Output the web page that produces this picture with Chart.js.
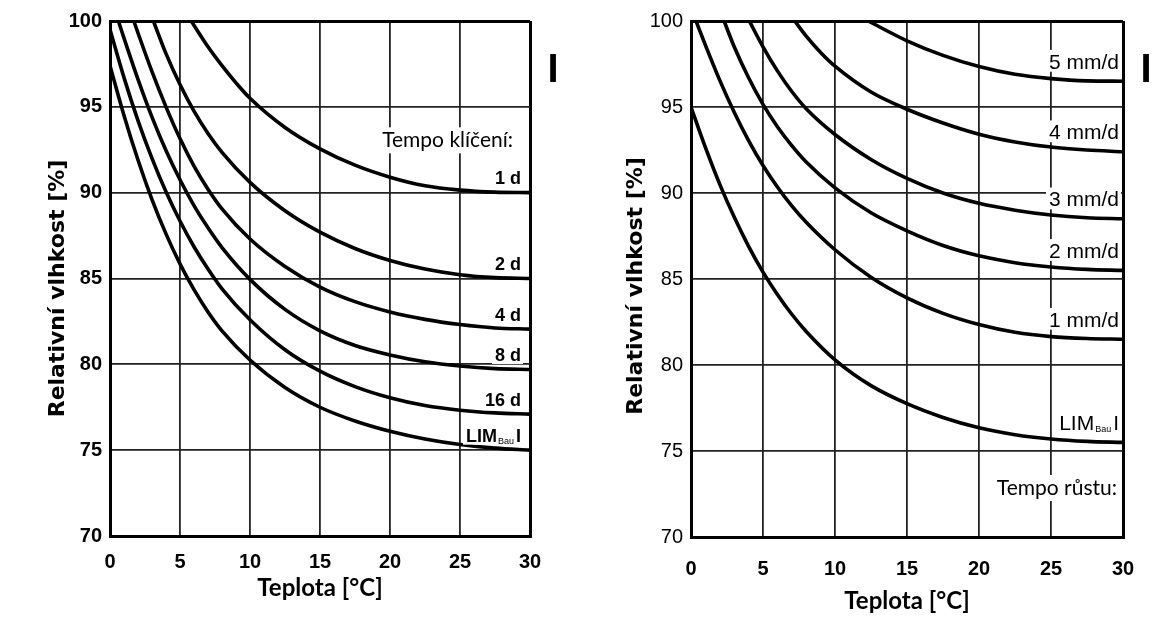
<!DOCTYPE html>
<html>
<head>
<meta charset="utf-8">
<script src="https://cdn.jsdelivr.net/npm/chart.js@4"></script>
<style>
  html, body { margin: 0; padding: 0; background: #fff; }
  #wrap { position: relative; width: 1176px; height: 622px; }
  .box { position: absolute; top: 0; height: 622px; }
  #leftBox { left: 0; width: 590px; }
  #rightBox { left: 590px; width: 586px; }
</style>
</head>
<body>
<div id="wrap">
  <div class="box" id="leftBox"><canvas id="germChart"></canvas></div>
  <div class="box" id="rightBox"><canvas id="growthChart"></canvas></div>
</div>
<script>
// =========================
// Data: [teplota °C, rel. vlhkost %]
// =========================
// Tempo klíčení (germination time)
const germ1d  = [[5.8,100],[7,98.5],[8,97.4],[9,96.4],[10,95.5],[12.5,93.8],[15,92.55],[17.5,91.6],[20,90.9],[22.5,90.4],[25,90.15],[27.5,90.03],[30,90.0]];
const germ2d  = [[3.1,100],[4,98.1],[5,96.3],[6,94.75],[7,93.45],[8,92.35],[10,90.6],[12.5,88.95],[15,87.7],[17.5,86.75],[20,86.05],[22.5,85.55],[25,85.22],[27.5,85.05],[30,85.0]];
const germ4d  = [[1.7,100],[2,99.3],[3,97.05],[4,95.0],[5,93.15],[6,91.55],[7,90.2],[8,89.05],[10,87.3],[12.5,85.7],[15,84.5],[17.5,83.65],[20,83.05],[22.5,82.62],[25,82.32],[27.5,82.12],[30,82.05]];
const germ8d  = [[0.6,100],[1,99.0],[2,96.6],[3,94.4],[4,92.45],[5,90.75],[6,89.25],[7,87.95],[8,86.8],[10,84.95],[12.5,83.2],[15,81.95],[17.5,81.1],[20,80.55],[22.5,80.15],[25,79.9],[27.5,79.75],[30,79.7]];
const germ16d = [[0,99.5],[1,96.7],[2,94.2],[3,92.0],[4,90.05],[5,88.35],[6,86.85],[7,85.55],[8,84.4],[10,82.6],[12.5,80.85],[15,79.6],[17.5,78.7],[20,78.05],[22.5,77.6],[25,77.33],[27.5,77.17],[30,77.1]];
const limGerm = [[0,97.4],[1,94.5],[2,91.9],[3,89.6],[4,87.6],[5,85.85],[6,84.35],[7,83.05],[8,81.95],[10,80.25],[12.5,78.65],[15,77.5],[17.5,76.7],[20,76.1],[22.5,75.65],[25,75.33],[27.5,75.12],[30,75.0]];

// Tempo růstu (growth rate)
const grow5mm = [[12.3,100],[15,98.85],[17.5,98.0],[20,97.35],[22.5,96.9],[25,96.65],[27.5,96.52],[30,96.5]];
const grow4mm = [[7.2,100],[8,99.12],[9,98.17],[10,97.37],[12.5,95.87],[15,94.87],[17.5,94.07],[20,93.42],[22.5,92.97],[25,92.67],[27.5,92.5],[30,92.4]];
const grow3mm = [[4.05,100],[5,98.5],[6,97.1],[7,95.9],[8,94.9],[10,93.4],[12.5,91.95],[15,90.85],[17.5,90.0],[20,89.4],[22.5,89.0],[25,88.72],[27.5,88.56],[30,88.5]];
const grow2mm = [[2.3,100],[3,98.5],[4,96.7],[5,95.15],[6,93.85],[7,92.75],[8,91.8],[10,90.3],[12.5,88.85],[15,87.8],[17.5,86.95],[20,86.35],[22.5,85.95],[25,85.7],[27.5,85.56],[30,85.5]];
const grow1mm = [[0.35,100],[1,98.6],[2,96.55],[3,94.7],[4,93.05],[5,91.6],[6,90.35],[7,89.25],[8,88.3],[10,86.7],[12.5,85.1],[15,83.9],[17.5,83.0],[20,82.35],[22.5,81.9],[25,81.65],[27.5,81.54],[30,81.5]];
const limGrow = [[0,95.0],[1,92.65],[2,90.5],[3,88.6],[4,86.9],[5,85.4],[6,84.1],[7,82.95],[8,81.95],[10,80.3],[12.5,78.8],[15,77.75],[17.5,76.95],[20,76.35],[22.5,75.95],[25,75.7],[27.5,75.56],[30,75.5]];

const germSeries = [germ1d, germ2d, germ4d, germ8d, germ16d, limGerm];
const germNames  = ['1 d', '2 d', '4 d', '8 d', '16 d', 'LIM|Bau|I'];
const growSeries = [grow5mm, grow4mm, grow3mm, grow2mm, grow1mm, limGrow];
const growNames  = ['5 mm/d', '4 mm/d', '3 mm/d', '2 mm/d', '1 mm/d', 'LIM|Bau|I'];

const xMin = 0, xMax = 30, yMin = 70, yMax = 100, tickStep = 5;
const xTitle = 'Teplota [°C]';
const yTitle = 'Relativní vlhkost [%]';

// =========================
// Curve end labels + headings
// =========================
function drawTag(ctx, name, right, bottom, font, subFont) {
    const parts = name.split('|');
    ctx.font = font;
    const w0 = ctx.measureText(parts[0]).width;
    const w2 = parts[2] ? ctx.measureText(parts[2]).width + 2 : 0;
    ctx.font = subFont;
    const w1 = parts[1] ? ctx.measureText(parts[1]).width + 1 : 0;
    const total = w0 + w1 + w2;
    const left = right - total;
    const h = parseInt(font.match(/(\d+)px/)[1], 10);

    ctx.fillStyle = '#fff';
    ctx.fillRect(left - 3, bottom - h * 0.8 - 2, total + 5, h * 0.8 + 5);

    ctx.fillStyle = '#000';
    ctx.textAlign = 'left';
    ctx.textBaseline = 'alphabetic';
    ctx.font = font;
    ctx.fillText(parts[0], left, bottom);
    if (parts[1]) {
        ctx.font = subFont;
        ctx.fillText(parts[1], left + w0 + 1, bottom + 2);
    }
    if (parts[2]) {
        ctx.font = font;
        ctx.fillText(parts[2], left + w0 + w1 + 2, bottom);
    }
}

const curveLabels = {
    id: 'curveLabels',
    afterDatasetsDraw(chart, args, opts) {
        const { ctx, chartArea, scales: { x, y } } = chart;
        ctx.save();
        chart.data.datasets.forEach(ds => {
            const last = ds.data[ds.data.length - 1];
            drawTag(ctx, ds.label,
                x.getPixelForValue(last.x) - opts.inset,
                y.getPixelForValue(last.y) - opts.gap,
                opts.font, opts.subFont);
        });

        // heading ("Tempo ...")
        ctx.font = opts.headFont;
        const hw = ctx.measureText(opts.heading).width;
        const hx = x.getPixelForValue(xMax) - opts.headInset;
        const hy = y.getPixelForValue(opts.headingAt);
        ctx.fillStyle = '#fff';
        ctx.fillRect(hx - hw - 3, hy - 13, hw + 5, 26);
        ctx.fillStyle = '#000';
        ctx.textAlign = 'right';
        ctx.textBaseline = 'middle';
        ctx.fillText(opts.heading, hx, hy);

        // big "I" marker outside the plot
        ctx.font = 'bold 40px "Liberation Sans", Arial, sans-serif';
        ctx.textAlign = 'center';
        ctx.textBaseline = 'middle';
        ctx.fillText('I', chartArea.right + opts.markDx, chartArea.top + 50);

        // y axis title (drawn here so it can sit a bit below centre, like the original)
        ctx.translate(opts.yTitleX, (chartArea.top + chartArea.bottom) / 2 + opts.yTitleShift);
        ctx.rotate(-Math.PI / 2);
        ctx.font = 'bold 22px "DejaVu Sans", Verdana, sans-serif';
        ctx.fillText(yTitle, 0, 0);
        ctx.restore();
    }
};

// =========================
// Chart factory
// =========================
function makeChart(canvasId, series, names, cfg) {
    const datasets = series.map((pts, i) => ({
        label: names[i],
        data: pts.map(p => ({ x: p[0], y: p[1] })),
        borderColor: '#000',
        borderWidth: 3.6,
        pointRadius: 0,
        fill: false,
        cubicInterpolationMode: 'monotone'
    }));

    const edge = (c, lo, hi) => c.tick && (c.tick.value === lo || c.tick.value === hi);

    return new Chart(document.getElementById(canvasId), {
        type: 'line',
        data: { datasets },
        options: {
            responsive: true,
            maintainAspectRatio: false,
            animation: false,
            layout: { padding: { top: 21, right: cfg.padRight, left: 0, bottom: 0 } },
            plugins: {
                legend: { display: false },
                tooltip: { enabled: false },
                curveLabels: cfg.labels
            },
            scales: {
                x: {
                    type: 'linear',
                    min: xMin, max: xMax,
                    ticks: { stepSize: tickStep, padding: cfg.xTickPad, color: '#000',
                             font: { family: '"Liberation Sans", Arial, sans-serif', size: 20, weight: 'bold' } },
                    grid: {
                        drawTicks: false,
                        color: c => edge(c, xMin, xMax) ? '#000' : '#222',
                        lineWidth: c => edge(c, xMin, xMax) ? 3 : 1.8
                    },
                    border: { display: true, color: '#000', width: 3 },
                    title: { display: true, text: xTitle, color: '#000',
                             padding: { top: 0, bottom: cfg.xTitlePad },
                             font: { family: 'Lato, "Open Sans", sans-serif', size: 24, weight: 'bold' } },
                    afterFit: s => { s.height = cfg.xHeight; }
                },
                y: {
                    type: 'linear',
                    min: yMin, max: yMax,
                    ticks: { stepSize: tickStep, padding: 8, color: '#000',
                             font: { family: '"Liberation Sans", Arial, sans-serif', size: 20, weight: cfg.yTickWeight } },
                    grid: {
                        drawTicks: false,
                        color: c => edge(c, yMin, yMax) ? '#000' : '#222',
                        lineWidth: c => edge(c, yMin, yMax) ? 3 : 1.8
                    },
                    border: { display: true, color: '#000', width: 3 },
                    title: { display: false },
                    afterFit: s => { s.width = cfg.yWidth; }
                }
            }
        },
        plugins: [curveLabels]
    });
}

const germChart = makeChart('germChart', germSeries, germNames, {
    padRight: 60, yWidth: 110, xHeight: 86, xTickPad: 14, xTitlePad: 19,
    yTickWeight: 'bold',
    labels: {
        inset: 9, gap: 8.5,
        font: 'bold 18px "Liberation Sans", Arial, sans-serif',
        subFont: '9px "Liberation Sans", Arial, sans-serif',
        heading: 'Tempo klíčení:', headingAt: 93.05, headInset: 17,
        headFont: '21px Lato, "Open Sans", sans-serif',
        markDx: 23, yTitleX: 58, yTitleShift: 10
    }
});

const growthChart = makeChart('growthChart', growSeries, growNames, {
    padRight: 53, yWidth: 101, xHeight: 85, xTickPad: 20, xTitlePad: 6,
    yTickWeight: 'normal',
    labels: {
        inset: 4, gap: 12.5,
        font: '21px "Liberation Sans", Arial, sans-serif',
        subFont: '9px "Liberation Sans", Arial, sans-serif',
        heading: 'Tempo růstu:', headingAt: 72.85, headInset: 6,
        headFont: '21px Lato, "Open Sans", sans-serif',
        markDx: 23, yTitleX: 46, yTitleShift: 7
    }
});
</script>
</body>
</html>
